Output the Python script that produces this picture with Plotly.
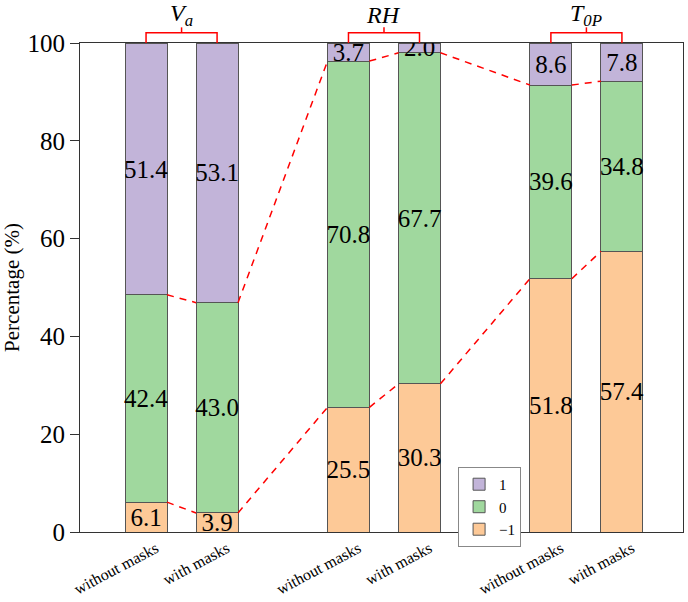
import plotly.graph_objects as go

categories = ["without masks", "with masks", "without masks", "with masks", "without masks", "with masks"]
positions = [0, 1, 2.85, 3.85, 5.7, 6.7]
neg_one = [6.1, 3.9, 25.5, 30.3, 51.8, 57.4]
zero = [42.4, 43.0, 70.8, 67.7, 39.6, 34.8]
one = [51.4, 53.1, 3.7, 2.0, 8.6, 7.8]
groups = ["<i>V<sub>a</sub></i>", "<i>RH</i>", "<i>T<sub>0P</sub></i>"]

FONT = "Liberation Serif"
W = 0.59
colors = {"-1": "#FDC997", "0": "#A0D89E", "1": "#C2B4D9"}

fig = go.Figure()
for name, vals, col in [("\u22121", neg_one, colors["-1"]), ("0", zero, colors["0"]), ("1", one, colors["1"])]:
    fig.add_trace(go.Bar(
        x=positions, y=vals, name=name, width=W,
        marker=dict(color=col, line=dict(color="#555555", width=1)),
        text=[f"{v:.1f}" for v in vals], textposition="inside", textangle=0,
        insidetextanchor="middle", constraintext="none",
        textfont=dict(family=FONT, size=25, color="black"),
    ))

# dashed connecting lines between bar edges
cum1 = neg_one
cum2 = [a + b for a, b in zip(neg_one, zero)]
for cum in (cum1, cum2):
    xs, ys = [], []
    for i in range(len(positions) - 1):
        xs += [positions[i] + W / 2, positions[i + 1] - W / 2, None]
        ys += [cum[i], cum[i + 1], None]
    fig.add_trace(go.Scatter(x=xs, y=ys, mode="lines", showlegend=False,
                             line=dict(color="#FF0000", width=1.5, dash="7px,6px"),
                             hoverinfo="skip"))

# brackets over groups
for g in range(3):
    x0 = positions[2 * g]
    x1 = positions[2 * g + 1]
    xc = (x0 + x1) / 2
    fig.add_shape(type="path", xref="x", yref="paper",
                  path=f"M {x0},1.0 L {x0},1.021 L {x1},1.021 L {x1},1.0",
                  line=dict(color="#FF0000", width=1.5))
    fig.add_shape(type="line", xref="x", yref="paper", x0=xc, x1=xc, y0=1.021, y1=1.032,
                  line=dict(color="#FF0000", width=1.5))
    fig.add_annotation(x=xc, y=1.058, xref="x", yref="paper", text=groups[g],
                       showarrow=False, yanchor="middle",
                       font=dict(family=FONT, size=24, color="black"))

fig.update_layout(
    width=688, height=602,
    margin=dict(l=80, r=5, t=43, b=70, autoexpand=False),
    barmode="stack",
    plot_bgcolor="white", paper_bgcolor="white",
    font=dict(family=FONT, color="black"),
    legend=dict(x=0.627, y=0.133, xanchor="left", yanchor="top",
                traceorder="reversed", bgcolor="white",
                bordercolor="#888888", borderwidth=1,
                font=dict(family=FONT, size=15), tracegroupgap=0,
                itemwidth=30),
    xaxis=dict(range=[-0.93, 7.56], tickvals=positions, ticktext=categories,
               tickangle=-28, tickfont=dict(family=FONT, size=16),
               ticklabelshift=10, ticklabelstandoff=0,
               showline=True, linecolor="#333333", linewidth=1.2, mirror=True,
               showgrid=False, zeroline=False, ticks="", automargin=False),
    yaxis=dict(range=[0, 100], dtick=20, ticks="outside", ticklen=9,
               tickcolor="#333333", tickfont=dict(family=FONT, size=25),
               showline=True, linecolor="#333333", linewidth=1.2, mirror=True,
               showgrid=False, zeroline=False, automargin=False,
               title=dict(text="Percentage (%)", font=dict(family=FONT, size=21), standoff=8)),
)

# remove the browser's default 8px body margin so the figure fills the window exactly
fig.write_html("out.html", config={"displayModeBar": False},
               post_script="document.body.style.margin='0px';document.body.style.overflow='hidden';")
